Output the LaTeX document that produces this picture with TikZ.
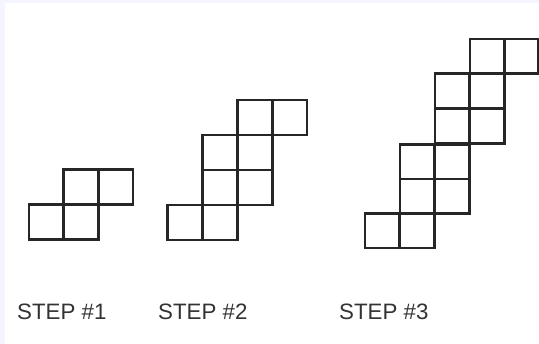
\documentclass[tikz,border=0pt]{standalone}
\usepackage{fontspec}
\setmainfont{Liberation Sans}
\begin{document}
\begin{tikzpicture}[x=1pt,y=-1pt,
  cell/.style={draw=black!85,line width=2.6pt,line join=miter},
  lbl/.style={anchor=base west,inner sep=0pt,text=black!80,font=\fontsize{22.3}{22.3}\selectfont}]
\useasboundingbox (0,0) rectangle (539,344);
\fill[white] (0,0) rectangle (539,344);
\fill[blue!4] (0,0) rectangle (539,3);
\fill[blue!4] (0,0) rectangle (5,344);
% step 1
\foreach \x/\y in {29/204.5, 63.5/204.5, 63.5/169.5, 98/169.5}
  \draw[cell] (\x,\y) rectangle ++(35,35);
% step 2
\foreach \x/\y in {167.5/205, 202.5/205, 202.5/170, 237.5/170, 202.5/135, 237.5/135, 237.5/100, 272/100}
  \draw[cell] (\x,\y) rectangle ++(35,35);
% step 3
\foreach \x/\y in {365/213.5, 400/213.5, 400/179, 435/179, 400/144.5, 435/144.5, 435/109, 470/109, 435/73.5, 470/73.5, 470/39, 504/39}
  \draw[cell] (\x,\y) rectangle ++(34.5,34.5);
\node[lbl] (s1) at (17,320) {STEP \#1};
\node[lbl] (s2) at (158,320) {STEP \#2};
\node[lbl] (s3) at (339,320) {STEP \#3};
\end{tikzpicture}
\end{document}
